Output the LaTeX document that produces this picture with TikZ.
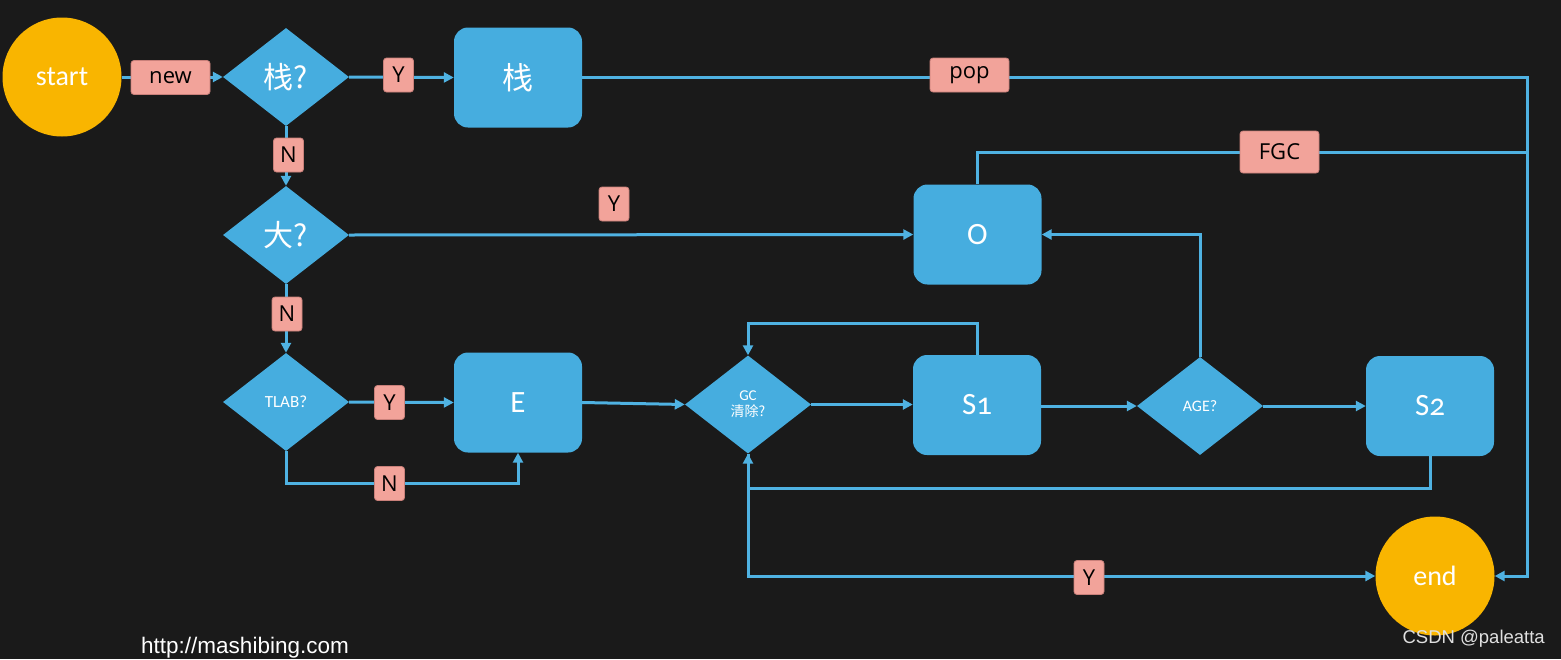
\documentclass[tikz,border=0pt]{standalone}
\usepackage{fontspec}
\setmainfont{Carlito}[Numbers=OldStyle]
\newfontfamily\cjk{Noto Sans CJK SC}
\newfontfamily\lblfont{Open Sans}
\newfontfamily\wmfont{Liberation Sans}
\usetikzlibrary{shapes.geometric,arrows.meta,calc}
\definecolor{board}{HTML}{1A1A1A}
\definecolor{fblue}{HTML}{46ADDF}
\definecolor{lblue}{HTML}{4FB2E2}
\definecolor{orng}{HTML}{F9B500}
\definecolor{pinkf}{HTML}{F2A39A}
\definecolor{pinkd}{HTML}{C9807A}
\pgfdeclarelayer{back}
\pgfdeclarelayer{wires}
\pgfsetlayers{back,wires,main}
\tikzset{
  boxnode/.style={rectangle, rounded corners=14pt, fill=fblue, minimum width=128pt, minimum height=100pt, inner sep=0pt, text=white, font=\fontsize{31}{33}\selectfont},
  decnode/.style={diamond, fill=fblue, minimum width=126pt, minimum height=98pt, inner sep=0pt, text=white, align=center},
  termnode/.style={circle, fill=orng, minimum size=119pt, inner sep=0pt, text=white, font=\fontsize{28}{30}\selectfont},
  lblnode/.style={rectangle, rounded corners=3pt, fill=pinkf, draw=pinkd, line width=0.8pt, minimum width=30pt, minimum height=34pt, inner sep=2pt, text=black, font=\lblfont\fontsize{22}{24}\selectfont},
  wlbl/.style={lblnode, minimum width=79pt},
  conn/.style={draw=lblue, line width=3pt},
  arr/.style={conn, -{Triangle[length=10pt,width=10pt]}},
}
\begin{document}
\begin{tikzpicture}[x=1pt,y=-1pt]
\useasboundingbox (0,0) rectangle (1561,659);
\begin{pgfonlayer}{back}
\fill[board] (0,0) rectangle (1561,659);
\end{pgfonlayer}
\clip (0,0) rectangle (1561,659);

% nodes
\node[termnode] (start) at (62,77) {start};
\node[wlbl] (new) at (170.5,77.5) {new};
\node[decnode, font=\cjk\fontsize{30}{32}\selectfont] (q1) at (286,77) {栈?};
\node[lblnode] (y1) at (398.5,75) {Y};
\node[boxnode, font=\cjk\fontsize{31}{33}\selectfont] (stack) at (518,77.5) {栈};
\node[wlbl] (pop) at (969.5,75) {pop};
\node[lblnode] (n1) at (288.5,155) {N};
\node[decnode, font=\cjk\fontsize{30}{32}\selectfont] (q2) at (286,235) {大?};
\node[lblnode] (y2) at (614,204) {Y};
\node[boxnode] (old) at (977.5,234.5) {O};
\node[wlbl, minimum height=42pt] (fgc) at (1279.5,152) {FGC};
\node[lblnode] (n2) at (287,314) {N};
\node[decnode, font=\fontsize{17}{19}\selectfont] (q3) at (286,402) {TLAB?};
\node[lblnode] (y3) at (389.5,402.5) {Y};
\node[boxnode] (eden) at (518,402.5) {E};
\node[lblnode] (n3) at (389.5,483.5) {N};
\node[decnode, font=\fontsize{15}{17}\selectfont] (gc) at (748,404.5) {GC\\[-1pt]{\cjk\fontsize{14}{16}\selectfont 清除?}};
\node[boxnode] (s1) at (977,405) {S1};
\node[decnode, font=\fontsize{16}{18}\selectfont] (age) at (1200,406) {AGE?};
\node[boxnode] (s2) at (1430,406) {S2};
\node[termnode] (end) at (1435,576) {end};
\node[lblnode] (y4) at (1089,577.5) {Y};

\coordinate (rt) at (1527,0);
\coordinate (loop) at (978,323);
\coordinate (j1) at (748,488);

\begin{pgfonlayer}{wires}
\draw[arr] (start.east) -- (q1.west);
\draw[arr] (q1.east) -- (stack.west);
\draw[arr] (q1.south) -- (q2.north);
\draw[arr] (q2.east) -- (old.west);
\draw[arr] (q2.south) -- (q3.north);
\draw[arr] (q3.east) -- (eden.west);
\draw[arr] (q3.south) -- (q3.south |- n3.center) -- (eden.south |- n3.center) -- (eden.south);
\draw[arr] (eden.east) -- (gc.west);
\draw[arr] (gc.east) -- (gc.east -| s1.west);
\draw[arr] (s1.north) -- (s1.north |- loop) -- (gc.north |- loop) -- (gc.north);
\draw[arr] (s1.east |- age.west) -- (age.west);
\draw[arr] (age.north) |- (old.east);
\draw[arr] (age.east) -- (s2.west);
\draw[arr] (s2.south) |- (j1) -- (gc.south);
\draw[arr] (gc.south) |- (end.west);
\draw[arr] (stack.east) -- (stack.east -| rt) |- (end.east);
\draw[conn] (old.north) |- (fgc.center) -- (fgc.center -| rt);
\end{pgfonlayer}

% footer texts
\node[anchor=base west, inner sep=0pt, text=white, font=\wmfont\fontsize{22.5}{24}\selectfont] (url) at (141,653) {http://mashibing.com};
\node[anchor=base east, inner sep=0pt, text=white!88!black, font=\wmfont\fontsize{18.5}{20}\selectfont] (wm) at (1545,643) {CSDN @paleatta};
\end{tikzpicture}
\end{document}
